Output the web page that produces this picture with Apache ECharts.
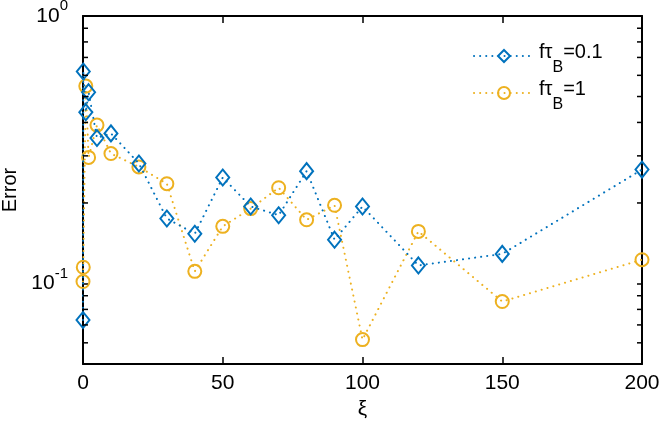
<!DOCTYPE html>
<html>
<head>
<meta charset="utf-8">
<script src="https://cdn.jsdelivr.net/npm/echarts@6/dist/echarts.min.js"></script>
<style>html,body{margin:0;padding:0;background:#fff}#c{width:663px;height:421px}</style>
</head>
<body>
<div id="c"></div>
<script>
// x values (xi)
var xi = [0, 0.1, 1, 2, 5, 10, 20, 30, 40, 50, 60, 70, 80, 90, 100, 120, 150, 200];
// Error, f tau_B = 0.1
var err01 = [0.073, 0.62, 0.437, 0.519, 0.350, 0.364, 0.281, 0.175, 0.1535, 0.249, 0.194, 0.180, 0.263, 0.1458, 0.194, 0.1168, 0.129, 0.2666];
// Error, f tau_B = 1
var err1 = [0.1017, 0.115, 0.547, 0.296, 0.391, 0.306, 0.2727, 0.236, 0.111, 0.1635, 0.1905, 0.228, 0.173, 0.196, 0.0617, 0.1566, 0.0856, 0.1227];
var xRange = [0, 200];
var yRange = [0.05, 1];
var yMinorTicks = [0.06, 0.07, 0.08, 0.09, 0.2, 0.3, 0.4, 0.5, 0.6, 0.7, 0.8, 0.9];
var names = ['fτB=0.1', 'fτB=1'];

var FONT = '"Liberation Sans", Arial, Helvetica, sans-serif';
var BLUE = '#0072BD', ORANGE = '#EDB120';

function pairs(xs, ys) { return xs.map(function (x, i) { return [x, ys[i]]; }); }

var chart = echarts.init(document.getElementById('c'));

function legendFmt(name) {
  return name === names[0] ? '{n|fτ}{s|B}{n|=0.1}' : '{n|fτ}{s|B}{n|=1}';
}
var legendRich = {
  n: { fontSize: 20, fontFamily: FONT, color: '#000', lineHeight: 20, padding: [0, 0, 8, 0] },
  s: { fontSize: 16, fontFamily: FONT, color: '#000', lineHeight: 16, padding: [24, 0, 0, 0] }
};
function legendCfg(name, top) {
  return {
    data: [name], left: 468, top: top, orient: 'vertical',
    itemWidth: 60, itemHeight: 15, itemGap: 0,
    formatter: legendFmt,
    textStyle: { rich: legendRich },
    selectedMode: false
  };
}

var yLabelRich = {
  b: { fontSize: 21, fontFamily: FONT, color: '#000' },
  sup: { fontSize: 15, fontFamily: FONT, color: '#000', padding: [0, 0, 20, 0] }
};

var option = {
  animation: false,
  backgroundColor: '#fff',
  grid: { left: 83, right: 21, top: 16, bottom: 57, containLabel: false, outerBoundsMode: 'none' },
  legend: [legendCfg(names[0], 31), legendCfg(names[1], 68)],
  xAxis: [{
    type: 'value', min: xRange[0], max: xRange[1], interval: 50,
    name: 'ξ', nameLocation: 'middle', nameGap: 30,
    nameTextStyle: { fontSize: 21, fontFamily: FONT, color: '#000' },
    axisLine: { show: true, onZero: false, lineStyle: { color: '#000', width: 2 } },
    axisTick: { show: true, inside: true, length: 7, lineStyle: { color: '#000', width: 1.5 } },
    axisLabel: { fontSize: 21, fontFamily: FONT, color: '#000', margin: 9 },
    splitLine: { show: false }
  }, {
    type: 'value', min: xRange[0], max: xRange[1], interval: 50, position: 'top',
    axisLine: { show: true, onZero: false, lineStyle: { color: '#000', width: 2 } },
    axisTick: { show: true, inside: true, length: 7, lineStyle: { color: '#000', width: 1.5 } },
    axisLabel: { show: false }, splitLine: { show: false }
  }],
  yAxis: [{
    type: 'log', logBase: 10, min: yRange[0], max: yRange[1],
    name: 'Error', nameLocation: 'middle', nameGap: 62,
    nameTextStyle: { fontSize: 20, fontFamily: FONT, color: '#000' },
    axisLine: { show: true, onZero: false, lineStyle: { color: '#000', width: 2 } },
    axisTick: { show: true, inside: true, length: 5, lineStyle: { color: '#000', width: 1.5 } },
    axisLabel: {
      margin: 15, align: 'right',
      formatter: function (v) {
        if (Math.abs(v - 1) < 1e-6) return '{b|10}{sup|0}';
        if (Math.abs(v - 0.1) < 1e-7) return '{b|10}{sup|-1}';
        return '';
      },
      rich: yLabelRich
    },
    splitLine: { show: false }
  }, {
    type: 'log', logBase: 10, min: yRange[0], max: yRange[1], position: 'right',
    axisLine: { show: true, onZero: false, lineStyle: { color: '#000', width: 2 } },
    axisTick: { show: true, inside: true, length: 5, lineStyle: { color: '#000', width: 1.5 } },
    axisLabel: { show: false }, splitLine: { show: false }
  }],
  series: [{
    name: names[0], type: 'line', data: pairs(xi, err01),
    symbol: 'diamond', symbolSize: [13, 16],
    lineStyle: { color: BLUE, width: 2, type: [0.1, 6], cap: 'round' },
    itemStyle: { color: 'rgba(255,255,255,0)', borderColor: BLUE, borderWidth: 2 },
    z: 3
  }, {
    name: names[1], type: 'line', data: pairs(xi, err1),
    symbol: 'circle', symbolSize: 13,
    lineStyle: { color: ORANGE, width: 2, type: [0.1, 6], cap: 'round' },
    itemStyle: { color: 'rgba(255,255,255,0)', borderColor: ORANGE, borderWidth: 2 },
    z: 2
  }, {
    type: 'custom', name: 'minorTicks', silent: true, clip: false, z: 10,
    xAxisIndex: 0, yAxisIndex: 0,
    data: yMinorTicks.map(function (v) { return [xRange[0], v]; }),
    encode: { x: 0, y: 1 },
    renderItem: function (params, api) {
      var v = api.value(1);
      var pL = api.coord([xRange[0], v]);
      var pR = api.coord([xRange[1], v]);
      var st = { stroke: '#000', lineWidth: 1.5, fill: null };
      return {
        type: 'group', children: [
          { type: 'line', shape: { x1: pL[0], y1: pL[1], x2: pL[0] + 5, y2: pL[1] }, style: st },
          { type: 'line', shape: { x1: pR[0] - 5, y1: pR[1], x2: pR[0], y2: pR[1] }, style: st }
        ]
      };
    }
  }]
};
chart.setOption(option);
</script>
</body>
</html>
